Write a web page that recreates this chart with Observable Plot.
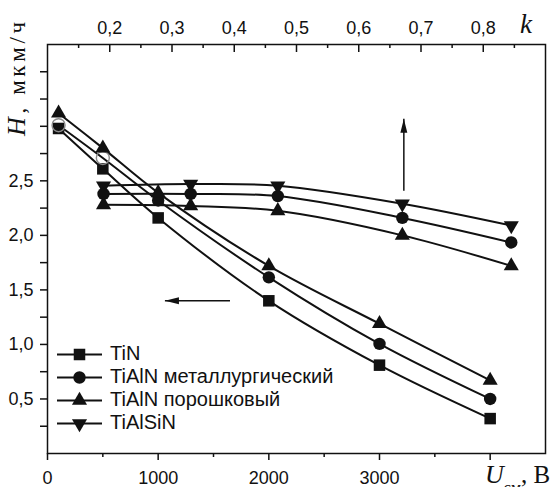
<!DOCTYPE html>
<html>
<head>
<meta charset="utf-8">
<script src="https://cdn.jsdelivr.net/npm/d3@7"></script>
<script src="https://cdn.jsdelivr.net/npm/@observablehq/plot@0.6"></script>
<style>
  html, body { margin: 0; padding: 0; background: #fff; }
  svg { display: block; }
</style>
</head>
<body>
<div id="chart"></div>
<script>
// ---------- data ----------
const seriesNames = ["TiN", "TiAlN металлургический", "TiAlN порошковый", "TiAlSiN"];

// series against the bottom axis (U_см, В)
const uValues     = [100, 500, 1000, 2000, 3000, 4000];
const hTiN_U      = [2.98, 2.61, 2.16, 1.40, 0.81, 0.32];
const hTiAlNmet_U = [3.01, 2.71, 2.32, 1.615, 1.005, 0.50];
const hTiAlNpor_U = [3.12, 2.80, 2.39, 1.72, 1.19, 0.67];

// series against the top axis (k)
const kValues     = [0.19, 0.33, 0.47, 0.67, 0.845];
const hTiAlSiN_k  = [2.455, 2.47, 2.455, 2.29, 2.09];
const hTiAlNmet_k = [2.38, 2.38, 2.36, 2.16, 1.935];
const hTiAlNpor_k = [2.28, 2.27, 2.225, 2.00, 1.72];

// axes
const uDomain = [0, 4500];
const kDomain = [0.1, 0.9];
const hDomain = [0, 3.75];
const xTicks = [0, 1000, 2000, 3000, 4000];
const xTickLabels = ["0", "1000", "2000", "3000", ""];
const xMinorTicks = [500, 1500, 2500, 3500];
const kTicks = [0.2, 0.3, 0.4, 0.5, 0.6, 0.7, 0.8];
const kTickLabels = ["0,2", "0,3", "0,4", "0,5", "0,6", "0,7", "0,8"];
const kMinorTicks = [0.15, 0.25, 0.35, 0.45, 0.55, 0.65, 0.75, 0.85];
const yTicks = [0.5, 1.0, 1.5, 2.0, 2.5];
const yTickLabels = ["0,5", "1,0", "1,5", "2,0", "2,5"];
const yOtherTicks = [0.25, 0.75, 1.25, 1.75, 2.25, 2.75, 3.0, 3.25, 3.5];

// annotation arrows
const arrowUp = [{x: 3220, y1: 2.41, y2: 3.07}];
const arrowLeft = [{x1: 1649, x2: 1061, y: 1.40}];

// ---------- helpers ----------
const kToU = k => (k - kDomain[0]) / (kDomain[1] - kDomain[0]) * (uDomain[1] - uDomain[0]) + uDomain[0];

const uRows = [];
[[seriesNames[0], hTiN_U], [seriesNames[1], hTiAlNmet_U], [seriesNames[2], hTiAlNpor_U]]
  .forEach(([s, arr]) => arr.forEach((h, i) => uRows.push({series: s, x: uValues[i], h, i})));
const kRows = [];
[[seriesNames[3], hTiAlSiN_k], [seriesNames[1], hTiAlNmet_k], [seriesNames[2], hTiAlNpor_k]]
  .forEach(([s, arr]) => arr.forEach((h, i) => kRows.push({series: s, x: kToU(kValues[i]), h, i})));

const sq3 = Math.sqrt(3);
const triUp = { draw(c, size) { const y = Math.sqrt(size / (sq3 * 3));
  c.moveTo(0, -2 * y); c.lineTo(sq3 * y, y); c.lineTo(-sq3 * y, y); c.closePath(); } };
const triDown = { draw(c, size) { const y = Math.sqrt(size / (sq3 * 3));
  c.moveTo(0, 2 * y); c.lineTo(sq3 * y, -y); c.lineTo(-sq3 * y, -y); c.closePath(); } };
const headUp = { draw(c) { c.moveTo(0, 0); c.lineTo(3.5, 14); c.lineTo(-3.5, 14); c.closePath(); } };
const headLeft = { draw(c) { c.moveTo(0, 0); c.lineTo(14, -3.5); c.lineTo(14, 3.5); c.closePath(); } };

const symbolOf = {};
symbolOf[seriesNames[0]] = {symbol: "square", r: 6.5};
symbolOf[seriesNames[1]] = {symbol: "circle", r: 6.2};
symbolOf[seriesNames[2]] = {symbol: triUp, r: 5.6};
symbolOf[seriesNames[3]] = {symbol: triDown, r: 5.6};

const W = 552, H = 487;
const mL = 47, mR = 7, mT = 44, mB = 34;
const frameH = H - mT - mB;
const ink = "#111";
const idx = (arr, v) => arr.findIndex(a => Math.abs(a - v) < 1e-6);

function dotsFor(rows, name, extra = {}) {
  const s = symbolOf[name];
  return Plot.dot(rows.filter(d => d.series === name), {x: "x", y: "h", symbol: s.symbol, r: s.r, fill: ink, ...extra});
}

const chart = Plot.plot({
  width: W, height: H,
  marginLeft: mL, marginRight: mR, marginTop: mT, marginBottom: mB,
  x: {domain: uDomain},
  y: {domain: hDomain},
  style: {fontFamily: "'Liberation Sans', Arial, sans-serif", fontSize: "18px", color: ink, background: "#fff"},
  marks: [
    // bottom axis (U)
    Plot.axisX({anchor: "bottom", ticks: xTicks, tickSize: 7, tickPadding: 11, strokeWidth: 1.5,
      tickFormat: d => xTickLabels[idx(xTicks, d)], fontSize: 18, label: null}),
    Plot.axisX({anchor: "bottom", ticks: xMinorTicks, tickSize: 4, strokeWidth: 1.5, text: null, label: null}),
    // top axis (k), labels above, ticks inward
    Plot.axisX({anchor: "top", ticks: kTicks.map(kToU), tickSize: 0, tickPadding: 11,
      tickFormat: d => kTickLabels[idx(kTicks.map(kToU), d)], fontSize: 18, label: null}),
    Plot.ruleX(kTicks, {x: kToU, insetBottom: frameH - 8, stroke: ink, strokeWidth: 1.5}),
    Plot.ruleX(kMinorTicks, {x: kToU, insetBottom: frameH - 4, stroke: ink, strokeWidth: 1.5}),
    // left axis
    Plot.axisY({anchor: "left", ticks: yTicks, tickSize: 7, tickPadding: 7, strokeWidth: 1.5,
      tickFormat: d => yTickLabels[idx(yTicks, d)], fontSize: 18, label: null}),
    Plot.axisY({anchor: "left", ticks: yOtherTicks, tickSize: 7, strokeWidth: 1.5, text: null, label: null}),
    Plot.frame({stroke: ink, strokeWidth: 1.5}),
    // curves
    Plot.line(uRows, {x: "x", y: "h", z: "series", curve: "catmull-rom", stroke: ink, strokeWidth: 2}),
    Plot.line(kRows, {x: "x", y: "h", z: "series", curve: "catmull-rom", stroke: ink, strokeWidth: 2}),
    // markers, bottom-axis series
    dotsFor(uRows, seriesNames[0]),
    Plot.dot(uRows.filter(d => d.series === seriesNames[1] && d.i >= 2), {x: "x", y: "h", symbol: "circle", r: 6.2, fill: ink}),
    Plot.dot(uRows.filter(d => d.series === seriesNames[1] && d.i < 2), {x: "x", y: "h", symbol: "circle", r: 6.5, fill: "none", stroke: "#8a8a8a", strokeWidth: 1.4}),
    dotsFor(uRows, seriesNames[2]),
    // markers, top-axis series
    dotsFor(kRows, seriesNames[3]),
    dotsFor(kRows, seriesNames[1]),
    dotsFor(kRows, seriesNames[2]),
    // arrows
    Plot.link(arrowUp, {x1: "x", x2: "x", y1: "y1", y2: "y2", stroke: ink, strokeWidth: 1.5}),
    Plot.dot(arrowUp, {x: "x", y: "y2", symbol: headUp, fill: ink}),
    Plot.link(arrowLeft, {x1: "x1", x2: "x2", y1: "y", y2: "y", stroke: ink, strokeWidth: 1.5}),
    Plot.dot(arrowLeft, {x: "x2", y: "y", symbol: headLeft, fill: ink})
  ]
});

const svg = d3.select(chart);
const serif = "'Liberation Serif', 'Times New Roman', serif";

// y-axis title: H, мкм/ч
const yt = svg.append("text")
  .attr("transform", "translate(25,136) rotate(-90)")
  .attr("text-anchor", "start")
  .attr("font-family", serif)
  .attr("fill", ink)
  .attr("textLength", 114).attr("lengthAdjust", "spacing");
yt.append("tspan").attr("font-style", "italic").attr("font-size", 26).text("H");
yt.append("tspan").attr("font-size", 23).text(", мкм/ч");

// x-axis title: U_см, В
const xt = svg.append("text")
  .attr("x", 485).attr("y", 483)
  .attr("text-anchor", "start")
  .attr("font-family", serif)
  .attr("fill", ink).attr("font-size", 25);
xt.append("tspan").attr("font-style", "italic").attr("font-size", 26).text("U");
xt.append("tspan").attr("font-size", 16).attr("dy", 10).text("см");
xt.append("tspan").attr("dy", -10).text(", В");

// top axis title k
svg.append("text")
  .attr("x", 520).attr("y", 33)
  .attr("text-anchor", "start")
  .attr("font-family", serif)
  .attr("font-style", "italic").attr("font-size", 27).attr("fill", ink)
  .text("k");

// legend
const legendRows = [354.5, 377.5, 400.5, 423.5];
const lg = svg.append("g").attr("text-anchor", "start");
seriesNames.forEach((name, i) => {
  const y = legendRows[i];
  lg.append("line").attr("x1", 57).attr("x2", 102).attr("y1", y).attr("y2", y)
    .attr("stroke", ink).attr("stroke-width", 2);
  const s = symbolOf[name];
  const sym = typeof s.symbol === "string"
    ? (s.symbol === "square" ? d3.symbolSquare : d3.symbolCircle) : s.symbol;
  lg.append("path").attr("transform", `translate(79.5,${y})`)
    .attr("d", d3.symbol(sym, Math.PI * s.r * s.r)()).attr("fill", ink);
  lg.append("text").attr("x", 110).attr("y", y + 5.5)
    .attr("text-anchor", "start")
    .attr("font-family", "'Liberation Sans', Arial, sans-serif").attr("font-size", 20)
    .attr("fill", ink).text(name);
});

document.getElementById("chart").appendChild(chart);
</script>
</body>
</html>
